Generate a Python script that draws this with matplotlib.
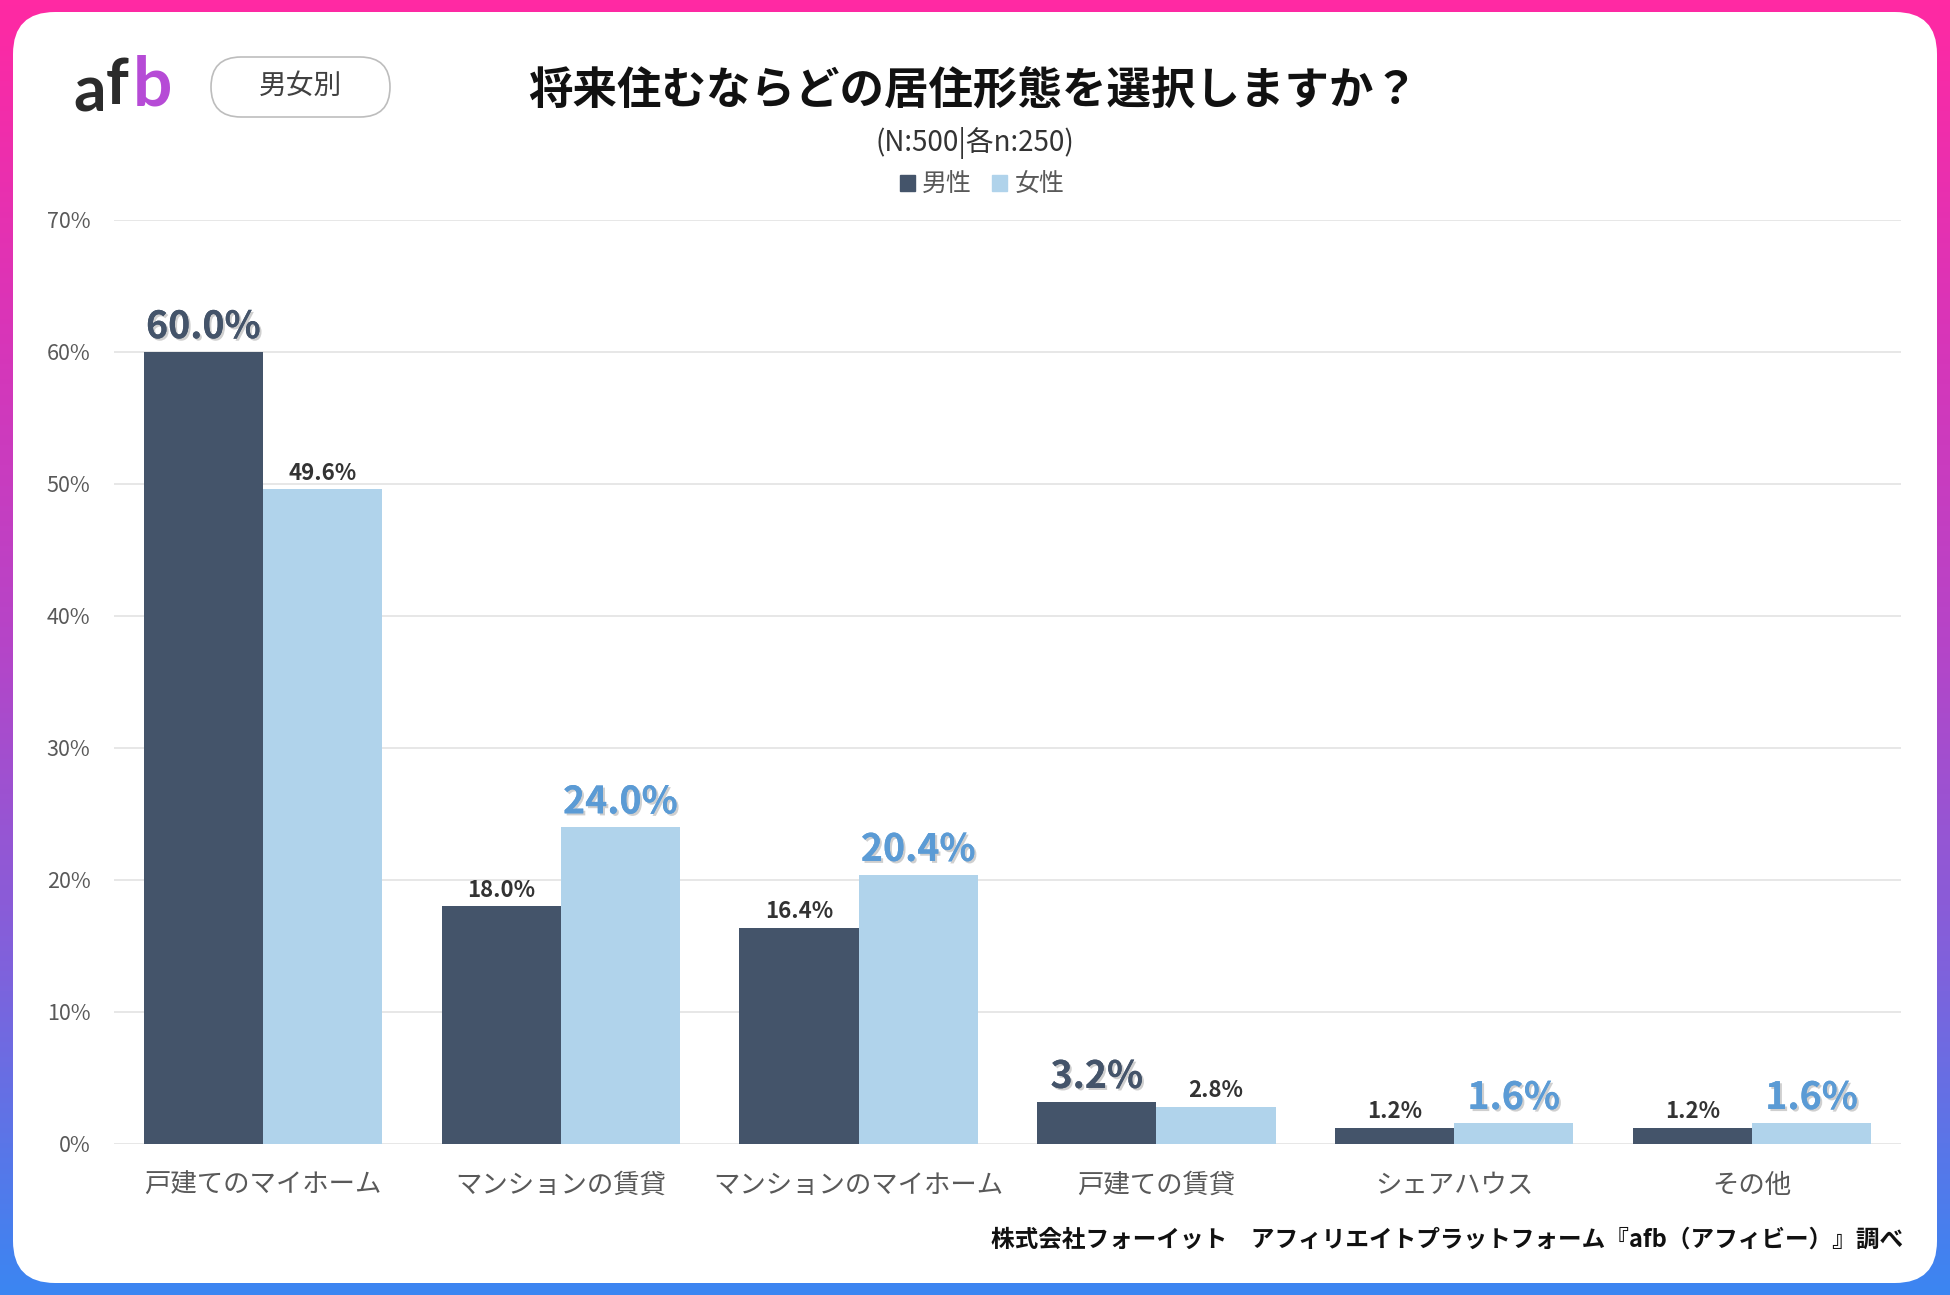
import numpy as np
import matplotlib
matplotlib.use("Agg")
import matplotlib.pyplot as plt
from matplotlib.colors import LinearSegmentedColormap
from matplotlib.patches import FancyBboxPatch, Patch
import matplotlib.patheffects as pe

plt.rcParams['font.family'] = ['Noto Sans CJK JP', 'DejaVu Sans']

# ---- data ----
categories = ["戸建てのマイホーム", "マンションの賃貸", "マンションのマイホーム",
              "戸建ての賃貸", "シェアハウス", "その他"]
series_names = ["男性", "女性"]
male = [60.0, 18.0, 16.4, 3.2, 1.2, 1.2]
female = [49.6, 24.0, 20.4, 2.8, 1.6, 1.6]
yticks = [0, 10, 20, 30, 40, 50, 60, 70]
ytick_labels = ["0%", "10%", "20%", "30%", "40%", "50%", "60%", "70%"]
title = "将来住むならどの居住形態を選択しますか？"
subtitle = "(N:500|各n:250)"
badge = "男女別"
footer = "株式会社フォーイット　アフィリエイトプラットフォーム『afb（アフィビー）』調べ"

MALE_C = "#44546A"
FEMALE_C = "#B0D3EB"
MALE_LBL = "#44546A"
FEMALE_LBL = "#5B9BD5"
SMALL_LBL = "#333333"
GREY = "#595959"

W, H = 1950, 1295
fig = plt.figure(figsize=(W / 100, H / 100), dpi=100)

# ---- background frame ----
bg = fig.add_axes([0, 0, 1, 1], zorder=0)
bg.set_xlim(0, W)
bg.set_ylim(H, 0)
bg.axis('off')
cmap = LinearSegmentedColormap.from_list(
    "frame", ["#FF29A3", "#D935B8", "#B545C8", "#7F62DC", "#3B86F2"])
grad = np.linspace(0, 1, 256).reshape(-1, 1)
bg.imshow(grad, cmap=cmap, extent=[0, W, H, 0], aspect='auto', zorder=0)
bg.add_patch(FancyBboxPatch((13, 12), W - 26, H - 24,
                            boxstyle="round,pad=0,rounding_size=42",
                            fc='white', ec='none', zorder=1))

# logo
bg.text(90, 93, "a", fontsize=46, fontweight='bold', color="#2B2B2B",
        ha='center', va='center', family='Lato', zorder=3)
bg.text(117, 86, "f", fontsize=46, fontweight='bold', color="#2B2B2B",
        ha='center', va='center', family='Lato', zorder=3)
bg.text(152, 86, "b", fontsize=50, fontweight='bold', color="#B64BD6",
        ha='center', va='center', family='Lato', zorder=3)

# badge
bg.add_patch(FancyBboxPatch((211, 57), 179, 60,
                            boxstyle="round,pad=0,rounding_size=30",
                            fc='white', ec='#BDBDBD', lw=1.2, zorder=2))
bg.text(300, 86, badge, fontsize=20, color="#404040", ha='center', va='center', zorder=3)

# title / subtitle
bg.text(973, 91, title, fontsize=32, fontweight='bold', color="#111111",
        ha='center', va='center', zorder=3)
bg.text(975, 143, subtitle, fontsize=20, color="#333333",
        ha='center', va='center', zorder=3)

# footer
bg.text(1903, 1240, footer, fontsize=17, fontweight='bold', color="#111111",
        ha='right', va='center', zorder=3)

# ---- chart ----
left, right, top, bottom = 114, 1901, 220, 1144
ax = fig.add_axes([left / W, 1 - bottom / H, (right - left) / W, (bottom - top) / H], zorder=2)
ax.patch.set_alpha(0)
x = np.arange(len(categories))
bw = 0.4
ax.bar(x - bw / 2, male, width=bw, color=MALE_C, zorder=3, label=series_names[0])
ax.bar(x + bw / 2, female, width=bw, color=FEMALE_C, zorder=3, label=series_names[1])
ax.set_xlim(-0.5, len(categories) - 0.5)
ax.set_ylim(0, 70)
ax.set_yticks(yticks)
ax.set_yticklabels(ytick_labels)
ax.set_xticks(x)
ax.set_xticklabels(categories)
for s in ax.spines.values():
    s.set_visible(False)
ax.grid(axis='y', color='#E3E3E3', lw=1.2, zorder=0)
ax.tick_params(axis='y', length=0, pad=17, labelsize=15.5, labelcolor=GREY)
ax.tick_params(axis='x', length=0, pad=20, labelsize=19, labelcolor=GREY)

shadow = [pe.withSimplePatchShadow(offset=(1.5, -1.5), shadow_rgbFace='#777777', alpha=0.35),
          pe.Normal()]

for i in range(len(categories)):
    for val, other, dx, col in ((male[i], female[i], -bw / 2, MALE_LBL),
                                (female[i], male[i], bw / 2, FEMALE_LBL)):
        if val > other:
            ax.annotate(f"{val:.1f}%", (x[i] + dx, val), xytext=(0, 10),
                        textcoords='offset points', ha='center', va='baseline',
                        fontsize=27, fontweight='bold', color=col,
                        path_effects=shadow, zorder=5)
        else:
            ax.annotate(f"{val:.1f}%", (x[i] + dx, val), xytext=(0, 7),
                        textcoords='offset points', ha='center', va='baseline',
                        fontsize=16, fontweight='bold', color=SMALL_LBL, zorder=5)

handles = [Patch(color=MALE_C, label=series_names[0]),
           Patch(color=FEMALE_C, label=series_names[1])]
leg = fig.legend(handles=handles, loc='center', bbox_to_anchor=(982 / W, 1 - 185 / H),
                 ncol=2, frameon=False, fontsize=18, handlelength=0.6, handleheight=0.6,
                 handletextpad=0.3, columnspacing=0.8)
for t in leg.get_texts():
    t.set_color(GREY)

fig.savefig("out.png", dpi=100)
